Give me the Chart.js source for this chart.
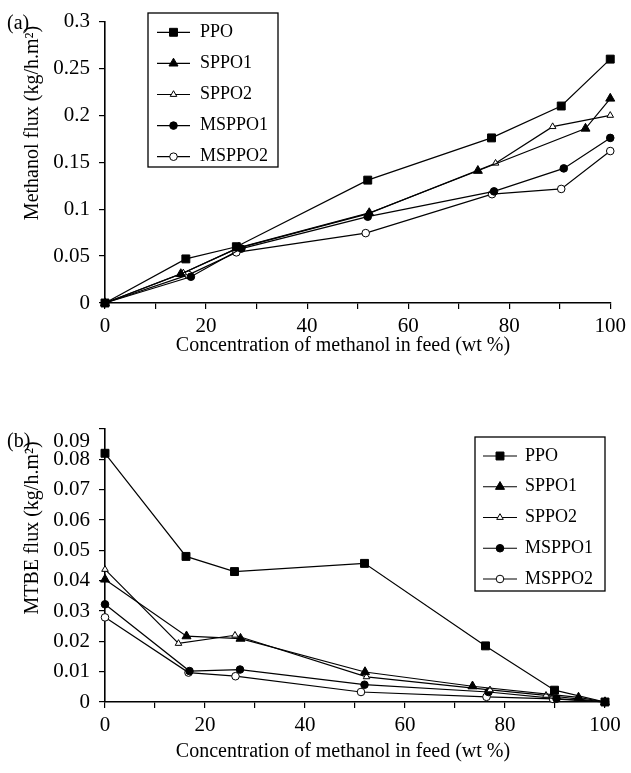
<!DOCTYPE html>
<html>
<head>
<meta charset="utf-8">
<script src="https://cdn.jsdelivr.net/npm/chart.js@4.4.1/dist/chart.umd.min.js"></script>
<style>
  html, body { margin: 0; padding: 0; background: #fff; }
  #wrap { position: relative; width: 631px; height: 773px; }
  #topBox { position: absolute; left: 0; top: 0; width: 631px; height: 380px; }
  #botBox { position: absolute; left: 0; top: 380px; width: 631px; height: 393px; }
  .tag { position: absolute; font-family: "Liberation Serif", serif; font-size: 20px; color: #000; }
</style>
</head>
<body>
<div id="wrap">
  <div id="topBox"><canvas id="chartA"></canvas></div>
  <div id="botBox"><canvas id="chartB"></canvas></div>
  <div class="tag" style="left:7px; top:11px;">(a)</div>
  <div class="tag" style="left:7px; top:429px;">(b)</div>
</div>
<script>
// ---- data ----
const seriesNames = ["PPO", "SPPO1", "SPPO2", "MSPPO1", "MSPPO2"];

// (a) methanol flux
const ppoXA    = [0, 16, 26, 52, 76.5, 90.3, 100];
const ppoYA    = [0, 0.047, 0.06, 0.131, 0.176, 0.21, 0.26];
const sppo1XA  = [0, 15, 26.5, 52.3, 73.8, 95.1, 100];
const sppo1YA  = [0, 0.031, 0.059, 0.096, 0.141, 0.186, 0.218];
const sppo2XA  = [0, 15.5, 26, 52, 77.3, 88.6, 100];
const sppo2YA  = [0, 0.032, 0.058, 0.095, 0.149, 0.188, 0.2];
const msppo1XA = [0, 17, 27, 52, 77, 90.8, 100];
const msppo1YA = [0, 0.028, 0.058, 0.092, 0.119, 0.1435, 0.176];
const msppo2XA = [0, 16.5, 26, 51.6, 76.6, 90.3, 100];
const msppo2YA = [0, 0.03, 0.054, 0.0745, 0.116, 0.1216, 0.162];

// (b) MTBE flux
const ppoXB    = [0, 16.2, 25.9, 51.9, 76.1, 89.9, 100];
const ppoYB    = [0.082, 0.048, 0.043, 0.0457, 0.0185, 0.0039, 0];
const sppo1XB  = [0, 16.3, 27.1, 52, 73.5, 94.7, 100];
const sppo1YB  = [0.0404, 0.0217, 0.0209, 0.0099, 0.0052, 0.0015, 0];
const sppo2XB  = [0, 14.7, 26, 52.3, 77, 88.2, 100];
const sppo2YB  = [0.0437, 0.0193, 0.022, 0.0083, 0.004, 0.0022, 0];
const msppo1XB = [0, 16.9, 27, 51.9, 76.7, 90.3, 100];
const msppo1YB = [0.0322, 0.0102, 0.0107, 0.0057, 0.0033, 0.0011, 0];
const msppo2XB = [0, 16.7, 26.1, 51.2, 76.3, 89.6, 100];
const msppo2YB = [0.0279, 0.0097, 0.0085, 0.0033, 0.0017, 0.001, 0];

// ticks
const xTicks = [0, 10, 20, 30, 40, 50, 60, 70, 80, 90, 100];
const xTickLabels = [0, 20, 40, 60, 80, 100];
const yTicksA = [0, 0.05, 0.1, 0.15, 0.2, 0.25, 0.3];
const yTicksB = [0, 0.01, 0.02, 0.03, 0.04, 0.05, 0.06, 0.07, 0.08, 0.09];

const xTitle = "Concentration of methanol in feed (wt %)";
const yTitleA = "Methanol flux (kg/h.m²)";
const yTitleB = "MTBE flux (kg/h.m²)";

const FONT = '"Liberation Serif", "Times New Roman", serif';

// marker look per series
const markers = [
  { style: "rect", r: 5.6, fill: "#000" },
  { style: "triangle", r: 5.2, fill: "#000" },
  { style: "triangle", r: 3.8, fill: "#fff" },
  { style: "circle", r: 3.8, fill: "#000" },
  { style: "circle", r: 3.8, fill: "#fff" }
];

function pts(xs, ys) {
  return xs.map((x, i) => ({ x: x, y: ys[i] }));
}

function makeDatasets(list) {
  return list.map((d, i) => ({
    label: seriesNames[i],
    data: pts(d[0], d[1]),
    borderColor: "#000",
    borderWidth: 1.2,
    tension: 0,
    fill: false,
    clip: false,
    pointStyle: markers[i].style,
    pointRadius: markers[i].r,
    pointBackgroundColor: markers[i].fill,
    pointBorderColor: "#000",
    pointBorderWidth: 1
  }));
}

// legend drawn inside the plot, with a box
const boxLegend = {
  id: "boxLegend",
  afterDraw(chart, args, o) {
    const ctx = chart.ctx;
    ctx.save();
    ctx.strokeStyle = "#000";
    ctx.lineWidth = 1.3;
    ctx.strokeRect(o.x, o.y, o.w, o.h);
    ctx.font = "18px " + FONT;
    ctx.textBaseline = "middle";
    chart.data.datasets.forEach((ds, i) => {
      const y = o.y + o.first + i * o.gap;
      ctx.beginPath();
      ctx.strokeStyle = "#000";
      ctx.lineWidth = 1.2;
      ctx.moveTo(o.x + o.l0, y);
      ctx.lineTo(o.x + o.l1, y);
      ctx.stroke();
      ctx.fillStyle = ds.pointBackgroundColor;
      ctx.lineWidth = 1;
      Chart.helpers.drawPoint(ctx, {
        pointStyle: ds.pointStyle, radius: ds.pointRadius, rotation: 0, borderWidth: 1
      }, o.x + (o.l0 + o.l1) / 2, y);
      ctx.fillStyle = "#000";
      ctx.fillText(ds.label, o.x + o.tx, y);
    });
    ctx.restore();
  }
};

// axis titles placed where the original figure has them
const axisTitles = {
  id: "axisTitles",
  afterDraw(chart, args, o) {
    const ctx = chart.ctx;
    ctx.save();
    ctx.fillStyle = "#000";
    ctx.font = "20px " + FONT;
    ctx.textAlign = "center";
    ctx.textBaseline = "middle";
    ctx.fillText(o.xText, o.xX, o.xY);
    ctx.translate(o.yX, o.yY);
    ctx.rotate(-Math.PI / 2);
    ctx.fillText(o.yText, 0, 0);
    ctx.restore();
  }
};

function fmtTick(v) {
  return String(Math.round(v * 1000) / 1000);
}

function axisOpts(yMin, yMax, yTicks, xHeight, dropTop) {
  return {
    x: {
      type: "linear", min: 0, max: 100,
      afterBuildTicks: s => { s.ticks = xTicks.map(v => ({ value: v })); },
      afterFit: s => { s.height = xHeight; },
      ticks: {
        font: { family: FONT, size: 21 }, color: "#000", padding: 5,
        maxRotation: 0, autoSkip: false,
        callback: v => xTickLabels.includes(v) ? String(v) : ""
      },
      grid: { drawOnChartArea: false, drawTicks: true, tickLength: 6, color: "#000", lineWidth: 1.2 },
      border: { color: "#000", width: 1.6 }
    },
    y: {
      type: "linear", min: yMin, max: yMax,
      afterBuildTicks: s => { s.ticks = yTicks.map(v => ({ value: v })); },
      afterFit: s => { s.width = 105; },
      ticks: {
        font: { family: FONT, size: 21 }, color: "#000", padding: 9, autoSkip: false,
        // in (b) the top label sits a little below its tick
        callback: v => (dropTop && v === yMax) ? ["", fmtTick(v)] : fmtTick(v)
      },
      grid: { drawOnChartArea: false, drawTicks: true, tickLength: 6, color: "#000", lineWidth: 1.2 },
      border: { color: "#000", width: 1.6 }
    }
  };
}

const chartA = new Chart(document.getElementById("chartA"), {
  type: "line",
  data: {
    datasets: makeDatasets([
      [ppoXA, ppoYA], [sppo1XA, sppo1YA], [sppo2XA, sppo2YA],
      [msppo1XA, msppo1YA], [msppo2XA, msppo2YA]
    ])
  },
  options: {
    responsive: true, maintainAspectRatio: false, animation: false,
    layout: { padding: { left: 0, right: 19, top: 20, bottom: 0 } },
    plugins: {
      legend: { display: false }, tooltip: { enabled: false },
      boxLegend: { x: 148, y: 13, w: 130, h: 154, first: 19.3, gap: 31.1, l0: 9, l1: 42, tx: 52 },
      axisTitles: { xText: xTitle, xX: 343, xY: 346, yText: yTitleA, yX: 33, yY: 123 }
    },
    scales: axisOpts(0, 0.3, yTicksA, 77, false)
  },
  plugins: [boxLegend, axisTitles]
});

const chartB = new Chart(document.getElementById("chartB"), {
  type: "line",
  data: {
    datasets: makeDatasets([
      [ppoXB, ppoYB], [sppo1XB, sppo1YB], [sppo2XB, sppo2YB],
      [msppo1XB, msppo1YB], [msppo2XB, msppo2YB]
    ])
  },
  options: {
    responsive: true, maintainAspectRatio: false, animation: false,
    layout: { padding: { left: 0, right: 26, top: 49, bottom: 0 } },
    plugins: {
      legend: { display: false }, tooltip: { enabled: false },
      boxLegend: { x: 475, y: 57, w: 130, h: 154, first: 19, gap: 30.75, l0: 8, l1: 42, tx: 50 },
      axisTitles: { xText: xTitle, xX: 343, xY: 372, yText: yTitleB, yX: 33, yY: 148 }
    },
    scales: axisOpts(0, 0.09, yTicksB, 71, true)
  },
  plugins: [boxLegend, axisTitles]
});
</script>
</body>
</html>
